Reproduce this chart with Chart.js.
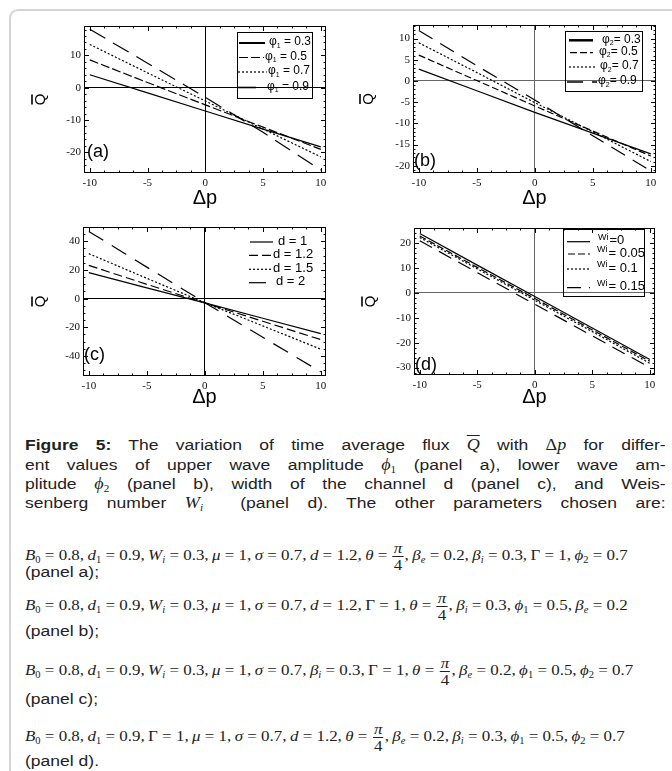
<!DOCTYPE html>
<html><head><meta charset="utf-8">
<script src="https://cdn.jsdelivr.net/npm/chart.js@4.4.1/dist/chart.umd.min.js"></script>
<style>
html,body{margin:0;padding:0;background:#fff;}
body{width:672px;height:771px;position:relative;overflow:hidden;}
#frame{position:absolute;left:9px;top:9px;width:720px;height:820px;border:2px solid #d4d4d4;border-radius:9px;box-sizing:border-box;}
canvas.cv{position:absolute;}
.cap{position:absolute;left:25px;width:567px;font-family:'Liberation Sans',Arial,sans-serif;font-size:15.5px;color:#222;transform:scaleX(1.13);transform-origin:0 0;}
.cap .ln{height:19.3px;line-height:19.3px;text-align:justify;text-align-last:justify;white-space:nowrap;}
.tm{font-family:'Liberation Serif','Times New Roman',serif;font-style:italic;font-size:16px;}
.up{font-style:normal;}
.sb{font-size:0.62em;vertical-align:-0.3em;line-height:0;}
.ov{text-decoration:overline;}
.fm{position:absolute;left:25px;font-family:'Liberation Serif','Times New Roman',serif;font-size:15px;color:#222;white-space:nowrap;line-height:20px;transform:scaleX(1.13);transform-origin:0 0;}
.fm i{font-style:italic;}
.frac{display:inline-block;vertical-align:middle;text-align:center;line-height:14px;margin:0 1px;}
.frac .nu{display:block;border-bottom:1px solid #222;padding:0 1px 1px;font-style:italic;}
.frac .de{display:block;padding-top:1px;}
.pl{position:absolute;left:25px;font-family:'Liberation Sans',Arial,sans-serif;font-size:15.5px;color:#222;line-height:20px;transform:scaleX(1.13);transform-origin:0 0;}
</style>
</head><body>
<div id="frame"></div>
<canvas id="ca" class="cv" width="336" height="215" style="left:0;top:0"></canvas>
<canvas id="cb" class="cv" width="336" height="215" style="left:336px;top:0"></canvas>
<canvas id="cc" class="cv" width="336" height="210" style="left:0;top:215px"></canvas>
<canvas id="cd" class="cv" width="336" height="210" style="left:336px;top:215px"></canvas>

<div class="cap" style="top:435.4px">
<div class="ln"><b>Figure 5:</b> The variation of time average flux <span class="tm"><span class="ov">Q</span></span> with <span class="tm"><span class="up">Δ</span>p</span> for differ-</div>
<div class="ln">ent values of upper wave amplitude <span class="tm">ϕ<span class="sb up">1</span></span> (panel a), lower wave am-</div>
<div class="ln">plitude <span class="tm">ϕ<span class="sb up">2</span></span> (panel b), width of the channel d (panel c), and Weis-</div>
<div class="ln">senberg number <span class="tm">W<span class="sb">i</span></span>&nbsp; (panel d). The other parameters chosen are:</div>
</div>

<div class="fm" style="top:541px"><i>B</i><span class="sb">0</span> = 0.8,&thinsp;<i>d</i><span class="sb">1</span> = 0.9,&thinsp;<i>W</i><span class="sb"><i>i</i></span> = 0.3,&thinsp;<i>μ</i> = 1,&thinsp;<i>σ</i> = 0.7,&thinsp;<i>d</i> = 1.2,&thinsp;<i>θ</i> = <span class="frac"><span class="nu">π</span><span class="de">4</span></span>,&thinsp;<i>β</i><span class="sb"><i>e</i></span> = 0.2,&thinsp;<i>β</i><span class="sb"><i>i</i></span> = 0.3,&thinsp;Γ = 1,&thinsp;<i>ϕ</i><span class="sb">2</span> = 0.7</div>
<div class="pl" style="top:562px">(panel a);</div>

<div class="fm" style="top:591px"><i>B</i><span class="sb">0</span> = 0.8,&thinsp;<i>d</i><span class="sb">1</span> = 0.9,&thinsp;<i>W</i><span class="sb"><i>i</i></span> = 0.3,&thinsp;<i>μ</i> = 1,&thinsp;<i>σ</i> = 0.7,&thinsp;<i>d</i> = 1.2,&thinsp;Γ = 1,&thinsp;<i>θ</i> = <span class="frac"><span class="nu">π</span><span class="de">4</span></span>,&thinsp;<i>β</i><span class="sb"><i>i</i></span> = 0.3,&thinsp;<i>ϕ</i><span class="sb">1</span> = 0.5,&thinsp;<i>β</i><span class="sb"><i>e</i></span> = 0.2</div>
<div class="pl" style="top:621px">(panel b);</div>

<div class="fm" style="top:656px"><i>B</i><span class="sb">0</span> = 0.8,&thinsp;<i>d</i><span class="sb">1</span> = 0.9,&thinsp;<i>W</i><span class="sb"><i>i</i></span> = 0.3,&thinsp;<i>μ</i> = 1,&thinsp;<i>σ</i> = 0.7,&thinsp;<i>β</i><span class="sb"><i>i</i></span> = 0.3,&thinsp;Γ = 1,&thinsp;<i>θ</i> = <span class="frac"><span class="nu">π</span><span class="de">4</span></span>,&thinsp;<i>β</i><span class="sb"><i>e</i></span> = 0.2,&thinsp;<i>ϕ</i><span class="sb">1</span> = 0.5,&thinsp;<i>ϕ</i><span class="sb">2</span> = 0.7</div>
<div class="pl" style="top:689px">(panel c);</div>

<div class="fm" style="top:722px"><i>B</i><span class="sb">0</span> = 0.8,&thinsp;<i>d</i><span class="sb">1</span> = 0.9,&thinsp;Γ = 1,&thinsp;<i>μ</i> = 1,&thinsp;<i>σ</i> = 0.7,&thinsp;<i>d</i> = 1.2,&thinsp;<i>θ</i> = <span class="frac"><span class="nu">π</span><span class="de">4</span></span>,&thinsp;<i>β</i><span class="sb"><i>e</i></span> = 0.2,&thinsp;<i>β</i><span class="sb"><i>i</i></span> = 0.3,&thinsp;<i>ϕ</i><span class="sb">1</span> = 0.5,&thinsp;<i>ϕ</i><span class="sb">2</span> = 0.7</div>
<div class="pl" style="top:751px">(panel d).</div>

<script>
// ---------- data ----------
const dpValues = [-10, -5, 0, 5, 10];
const xTicks = [-10, -5, 0, 5, 10];

// panel (a): phi1
const labelsA = ['φ₁ = 0.3', 'φ₁ = 0.5', 'φ₁ = 0.7', 'φ₁ = 0.9'];
const qPhi1_03 = [4.0, -1.6, -7.2, -12.8, -18.3];
const qPhi1_05 = [8.6, 1.6, -5.3, -12.2, -19.1];
const qPhi1_07 = [13.4, 4.6, -4.1, -12.8, -21.4];
const qPhi1_09 = [18.1, 7.6, -3.0, -13.8, -25.5];
const yTicksA = [-20, -10, 0, 10];

// panel (b): phi2
const labelsB = ['φ₂= 0.3', 'φ₂= 0.5', 'φ₂= 0.7', 'φ₂= 0.9'];
const qPhi2_03 = [2.8, -2.3, -7.4, -12.3, -17.2];
const qPhi2_05 = [6.1, 0.1, -5.9, -11.8, -17.7];
const qPhi2_07 = [9.0, 2.0, -5.1, -12.0, -19.0];
const qPhi2_09 = [11.9, 3.6, -4.5, -12.9, -21.2];
const yTicksB = [-20, -15, -10, -5, 0, 5, 10];

// panel (c): d
const labelsC = ['d = 1', 'd = 1.2', 'd = 1.5', 'd = 2'];
const qD_1 = [18.1, 7.5, -3.0, -13.7, -24.4];
const qD_12 = [23.2, 10.0, -3.0, -15.8, -28.6];
const qD_15 = [31.4, 14.2, -2.8, -19.0, -35.3];
const qD_2 = [46.9, 22.0, -2.8, -27.0, -51.1];
const yTicksC = [-40, -20, 0, 20, 40];

// panel (d): Wi
const labelsD = ['Wi =0', 'Wi = 0.05', 'Wi = 0.1', 'Wi = 0.15'];
const qWi_0 = [23.8, 11.1, -1.5, -14.1, -26.8];
const qWi_005 = [22.8, 10.2, -2.3, -14.9, -27.5];
const qWi_01 = [22.2, 9.6, -3.0, -15.6, -28.3];
const qWi_015 = [20.9, 8.1, -4.6, -17.3, -30.0];
const yTicksD = [-30, -20, -10, 0, 10, 20];

// ---------- rendering ----------
const SANS = "'Liberation Sans', Arial, sans-serif";
const SERIF = "'Liberation Serif', 'Times New Roman', serif";
const Y_TITLE_FS = 15;

function drawLabel(c, text, x, y, L) {
  c.fillStyle = '#000'; c.textBaseline = 'middle'; c.textAlign = 'left';
  let m;
  if ((m = text.match(/^(φ)([₀-₉])(.*)$/))) {
    c.font = L.fs + 'px ' + SANS;
    c.fillText(m[1], x, y);
    let w = c.measureText(m[1]).width;
    const sub = String.fromCharCode(m[2].charCodeAt(0) - 0x2080 + 48);
    c.font = Math.round(L.fs * 0.62) + 'px ' + SANS;
    c.fillText(sub, x + w, y + L.fs * 0.32);
    w += c.measureText(sub).width;
    c.font = L.fs + 'px ' + SANS;
    c.fillText(m[3], x + w, y);
  } else if ((m = text.match(/^(Wi)\s*(=.*)$/))) {
    c.font = L.smallFs + 'px ' + SANS;
    c.fillText(m[1], x, y - 3);
    c.font = L.fs + 'px ' + SANS;
    c.fillText(m[2], x + L.restDx, y);
  } else {
    c.font = L.fs + 'px ' + SANS;
    c.fillText(text, x, y);
  }
}

const decoPlugin = {
  id: 'panelDeco',
  afterDatasetsDraw(chart, args, o) {
    const c = chart.ctx, a = chart.chartArea, xs = chart.scales.x, ys = chart.scales.y;
    c.save();
    c.strokeStyle = '#000'; c.lineWidth = 1; c.setLineDash([]);
    // frame
    c.strokeRect(Math.round(a.left) + 0.5, Math.round(a.top) + 0.5, Math.round(a.right - a.left) - 1, Math.round(a.bottom - a.top) - 1);
    const seg = (x1, y1, x2, y2) => { c.beginPath(); c.moveTo(x1, y1); c.lineTo(x2, y2); c.stroke(); };
    const tx = (v, len) => { const p = Math.round(xs.getPixelForValue(v)) + 0.5; seg(p, a.bottom, p, a.bottom - len); seg(p, a.top, p, a.top + len); };
    const ty = (v, len) => { const p = Math.round(ys.getPixelForValue(v)) + 0.5; seg(a.left, p, a.left + len, p); seg(a.right, p, a.right - len, p); };
    for (let v = xs.min; v <= xs.max + 1e-9; v += 0.01) {
      const k = Math.round(v * 1000) / 1000;
      if (Math.abs(k / o.xMinor - Math.round(k / o.xMinor)) < 1e-6) tx(k, 2.5);
    }
    for (let k = Math.ceil(ys.min / o.yMinor) * o.yMinor; k <= ys.max; k += o.yMinor) ty(k, 2.5);
    xs.ticks.forEach(t => tx(t.value, 5));
    ys.ticks.forEach(t => ty(t.value, 5));
    // overbar of the rotated y title (Q with bar)
    const tOpt = ys.options.title;
    const tX = ys.left + tOpt.padding.top + Y_TITLE_FS / 2;
    const tY = (ys.top + ys.bottom) / 2;
    c.lineWidth = 1.6;
    seg(tX - 8.5, tY - 5, tX - 8.5, tY + 5);
    // legend
    const L = o.legend;
    c.lineWidth = 1;
    if (L.box) { c.strokeRect(L.box[0] + 0.5, L.box[1] + 0.5, L.box[2] - L.box[0], L.box[3] - L.box[1]); }
    chart.data.datasets.forEach((ds, i) => {
      c.strokeStyle = '#000'; c.lineWidth = L.lw[i]; c.setLineDash(ds.borderDash || []);
      seg(L.x1[i], L.y[i] + 1, L.x2[i], L.y[i] + 1);
      c.setLineDash([]);
      drawLabel(c, ds.label, L.tx[i], L.y[i], L);
    });
    // panel letter
    c.font = o.tag.fs + 'px ' + SANS; c.fillStyle = '#000'; c.textBaseline = 'middle'; c.textAlign = 'left';
    c.fillText(o.tag.text, o.tag.x, o.tag.y);
    c.restore();
  }
};

function makePanel(id, series, labels, yTicks, cfg) {
  return new Chart(document.getElementById(id), {
    type: 'scatter',
    data: {
      datasets: series.map((s, i) => ({
        label: labels[i],
        data: dpValues.map((x, k) => ({ x: x, y: s[k] })),
        showLine: true, pointRadius: 0, borderColor: '#000', borderWidth: 1.2,
        borderDash: cfg.dashes[i], fill: false, tension: 0
      }))
    },
    options: {
      responsive: false, animation: false, devicePixelRatio: 1,
      layout: { padding: cfg.padding },
      plugins: { legend: { display: false }, tooltip: { enabled: false }, panelDeco: cfg.deco },
      scales: {
        x: {
          type: 'linear', min: -10.5, max: 10.45,
          afterBuildTicks: s => { s.ticks = xTicks.map(v => ({ value: v })); },
          afterFit: s => { s.height = 36; },
          grid: { drawTicks: false, lineWidth: 1, color: ctx => (ctx.tick && ctx.tick.value === 0) ? cfg.zeroColor : 'rgba(0,0,0,0)' },
          border: { display: false },
          ticks: { padding: 4, autoSkip: false, maxRotation: 0, includeBounds: false, color: '#111', font: { family: SERIF, size: 11 } },
          title: { display: true, text: 'Δp', color: '#000', font: { family: SANS, size: 20, lineHeight: 1 }, padding: { top: 0, bottom: cfg.xTitlePad } }
        },
        y: {
          type: 'linear', min: cfg.yMin, max: cfg.yMax,
          afterBuildTicks: s => { s.ticks = yTicks.map(v => ({ value: v })); },
          afterFit: s => { s.width = cfg.yAxisW; },
          grid: { drawTicks: false, lineWidth: 1, color: ctx => (ctx.tick && ctx.tick.value === 0) ? cfg.zeroColor : 'rgba(0,0,0,0)' },
          border: { display: false },
          ticks: { padding: 3, autoSkip: false, includeBounds: false, color: '#111', font: { family: SERIF, size: 11 } },
          title: { display: true, text: 'Q', color: '#000', font: { family: SANS, size: Y_TITLE_FS, lineHeight: 1 }, padding: { top: cfg.yTitlePad, bottom: 0 } }
        }
      }
    },
    plugins: [decoPlugin]
  });
}

makePanel('ca', [qPhi1_03, qPhi1_05, qPhi1_07, qPhi1_09], labelsA, yTicksA, {
  yMin: -26.4, yMax: 19.1, yAxisW: 84, xTitlePad: 1, yTitlePad: 33, zeroColor: '#000',
  padding: { left: 0, top: 26, right: 10, bottom: 6 },
  dashes: [[], [9, 3], [2, 2], [18, 9]],
  deco: {
    xMinor: 0.625, yMinor: 2,
    legend: { box: [237, 32, 312, 98], y: [42, 56.5, 71, 86.5], x1: [239, 239, 238, 238], x2: [265, 264, 267, 263], tx: [269, 265, 268, 267], lw: [2, 1.2, 1.2, 1.6], fs: 12 },
    tag: { text: '(a)', x: 87, y: 152, fs: 18 }
  }
});
makePanel('cb', [qPhi2_03, qPhi2_05, qPhi2_07, qPhi2_09], labelsB, yTicksB, {
  yMin: -21.7, yMax: 13.2, yAxisW: 77, xTitlePad: 1, yTitlePad: 25, zeroColor: '#666',
  padding: { left: 0, top: 25, right: 16, bottom: 6 },
  dashes: [[], [7, 3], [2, 2], [16, 9]],
  deco: {
    xMinor: 0.625, yMinor: 1,
    legend: { box: [229, 31, 306, 91], y: [39.3, 51.7, 66, 81], x1: [233, 234, 233, 231], x2: [257, 257, 261, 261], tx: [266, 263, 264, 262], lw: [2.5, 1.2, 1.2, 1.6], fs: 12 },
    tag: { text: '(b)', x: 78, y: 161, fs: 18 }
  }
});
makePanel('cc', [qD_1, qD_12, qD_15, qD_2], labelsC, yTicksC, {
  yMin: -54, yMax: 50, yAxisW: 83, xTitlePad: 5, yTitlePad: 33, zeroColor: '#000',
  padding: { left: 0, top: 12, right: 10, bottom: 13 },
  dashes: [[], [9, 4], [2, 2], [17, 10]],
  deco: {
    xMinor: 0.625, yMinor: 5,
    legend: { box: null, y: [26, 39.3, 53.3, 66.7], x1: [250, 249, 249, 249], x2: [273, 271, 273, 273], tx: [278, 273, 273, 276], lw: [1.2, 1.2, 1.2, 1.2], fs: 13 },
    tag: { text: '(c)', x: 84, y: 140, fs: 18 }
  }
});
makePanel('cd', [qWi_0, qWi_005, qWi_01, qWi_015], labelsD, yTicksD, {
  yMin: -33, yMax: 26, yAxisW: 78, xTitlePad: 4, yTitlePad: 27, zeroColor: '#666',
  padding: { left: 0, top: 13, right: 17, bottom: 14 },
  dashes: [[], [7, 3], [2, 2], [14, 8]],
  deco: {
    xMinor: 0.625, yMinor: 2,
    legend: { box: [227, 14, 308, 81], y: [25.7, 38, 53, 71.7], x1: [231, 232, 231, 231], x2: [254, 254, 253, 254], tx: [262, 261, 261, 261], lw: [1.2, 1.2, 1.2, 1.2], fs: 13, smallFs: 9, restDx: 11.5 },
    tag: { text: '(d)', x: 79, y: 150.5, fs: 18 }
  }
});
</script>
</body></html>
